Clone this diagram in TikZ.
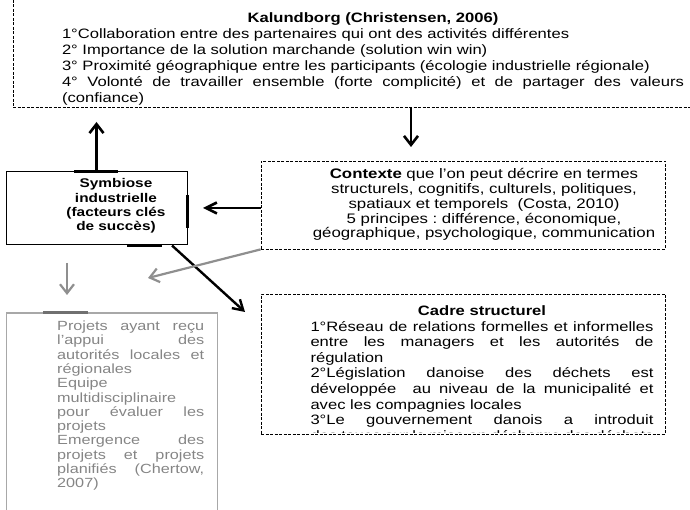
\documentclass[tikz,border=0pt]{standalone}
\usepackage{fontspec}
\setmainfont{Liberation Sans}[FakeStretch=1.22]
\usetikzlibrary{arrows.meta}
\tikzset{>={Straight Barb[length=9pt,width=14pt]}}
\tolerance=10000
\hyphenpenalty=10000
\hbadness=10000
\frenchspacing
\definecolor{greyline}{HTML}{8F8F8F}
\definecolor{greytext}{HTML}{858585}
\definecolor{greybox}{HTML}{A8A8A8}
\definecolor{greydark}{HTML}{707070}

\begin{document}
\begin{tikzpicture}[x=1pt, y=-1pt,
	dbox/.style={draw, dash pattern=on 3pt off 1.5pt, line width=0.8pt, inner sep=0pt},
	sbox/.style={draw, line width=1pt, inner sep=0pt},
	gbox/.style={draw=greybox, line width=1pt, inner sep=0pt},
	txt/.style={inner sep=0pt, text width=#1},
	arr/.style={->, line width=2.6pt},
	harr/.style={-{Straight Barb[length=11pt,width=11pt]}, line width=2.6pt},
	darr/.style={-{Straight Barb[length=10pt,width=12pt]}, line width=2.4pt},
	garr/.style={->, draw=greyline, line width=2.2pt}]
		\useasboundingbox (0,0) rectangle (690,510);
		\clip (0,0) rectangle (690,510);

		% boxes
		\node[dbox, minimum width=687pt, minimum height=127pt] (kalbox) at (356.5,43.5) {};
		\node[sbox, minimum width=181pt, minimum height=73pt] (sym) at (96.5,208.5) {};
		\node[dbox, minimum width=404pt, minimum height=88pt] (ctx) at (463,205) {};
		\node[dbox, minimum width=404pt, minimum height=140pt] (cadre) at (463,364) {};
		\node[gbox, minimum width=211pt, minimum height=230pt] (proj) at (111.5,428) {};

		% texts
		\node[txt=622pt, align=justify, anchor=north, font=\fontsize{13.6}{16}\selectfont] (kal) at (373,12.5) {%
			{\centering\bfseries Kalundborg (Christensen, 2006)\par}
			1°Collaboration entre des partenaires qui ont des activités différentes\par
			2° Importance de la solution marchande (solution win win)\par
			3° Proximité géographique entre les participants (écologie industrielle régionale)\par
			4° Volonté de travailler ensemble (forte complicité) et de partager des valeurs\linebreak (confiance)};
		\node[txt=130pt, align=center, font=\bfseries\fontsize{12.6}{14.2}\selectfont] (symtxt) at (116,206) {Symbiose\\ industrielle\\ (facteurs clés\\ de succès)};
		\node[txt=352pt, align=center, font=\fontsize{13.8}{14.9}\selectfont] (ctxtxt) at (484,204.5) {\textbf{Contexte} que l’on peut décrire en termes\\ structurels, cognitifs, culturels, politiques,\\ spatiaux et temporels\ \ (Costa, 2010)\\ 5 principes : différence, économique,\\ géographique, psychologique, communication};
		\begin{scope}
			\clip (cadre.north west) rectangle ([yshift=2pt]cadre.south east);
			\node[txt=343pt, align=justify, anchor=north, font=\fontsize{13.6}{15.6}\selectfont] (cadretxt) at (482,305.5) {%
				{\centering\bfseries Cadre structurel\par}
				1°Réseau de relations formelles et informelles\linebreak entre les managers et les autorités de\linebreak régulation\par
				2°Législation danoise des déchets est\linebreak développée\ \ au niveau de la municipalité et\linebreak avec les compagnies locales\par
				3°Le gouvernement danois a introduit\linebreak des taxes sur la mise en décharge des déchets\linebreak solides};
		\end{scope}
		\node[txt=147pt, align=justify, anchor=north west, text=greytext, font=\fontsize{13.3}{14.3}\selectfont] (projtxt) at (57,320.7) {%
			Projets ayant reçu\linebreak l’appui des\linebreak autorités locales et\linebreak régionales\par
			Equipe\\ multidisciplinaire\\ pour évaluer les\linebreak projets\par
			Emergence des\linebreak projets et projets\linebreak planifiés (Chertow,\linebreak 2007)};

		% connector traces on the borders
		\draw[line width=2.4pt] ([xshift=-22.5pt]sym.north) -- ([xshift=21.5pt]sym.north);
		\draw[line width=2.4pt] ([yshift=13.5pt]sym.east) -- ([yshift=-19.5pt]sym.east);
		\draw[line width=2.4pt] ([xshift=30.5pt]sym.south) -- ([xshift=65.5pt]sym.south);
		\draw[draw=greydark, line width=2.4pt] ([xshift=-68.5pt]proj.north) -- ([xshift=-23.5pt]proj.north);

		% arrows
		\coordinate (upend) at (96.5,122);
		\coordinate (downend) at (411,147);
		\coordinate (leftend) at (203,208);
		\coordinate (diagend) at (245,312);
		\coordinate (greyend) at (148,278);
		\coordinate (gdownstart) at (67,263);
		\coordinate (gdownend) at (67,295);
		\draw[arr] (sym.north) -- (upend);
		\draw[arr] (kalbox.south -| downend) -- (downend);
		\draw[harr] (ctx.west |- leftend) -- (leftend);
		\draw[darr] ([xshift=75.5pt]sym.south) -- (diagend);
		\draw[garr] (ctx.south west) -- (greyend);
		\draw[garr] (gdownstart) -- (gdownend);
\end{tikzpicture}
\end{document}
